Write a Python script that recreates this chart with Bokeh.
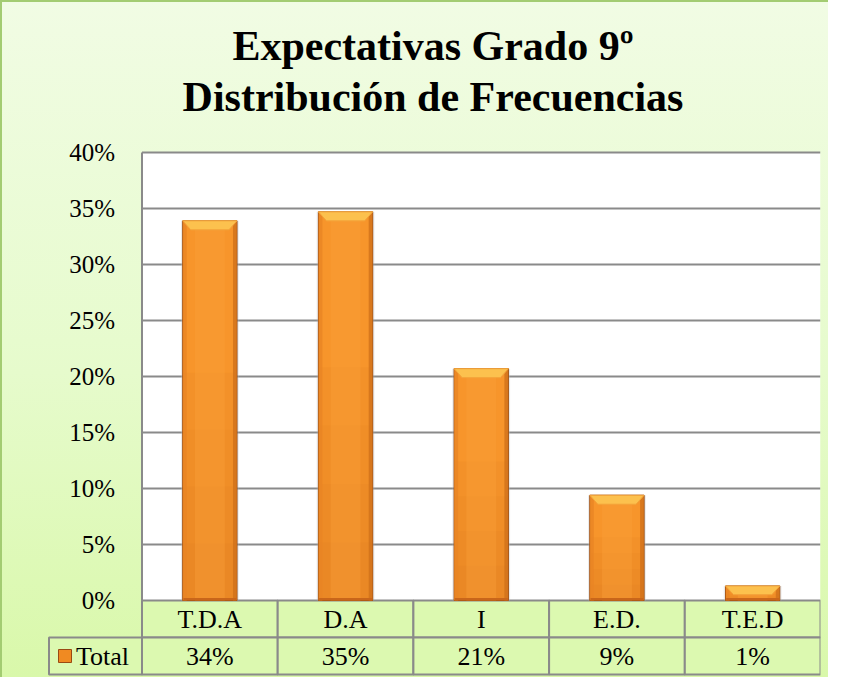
from bokeh.plotting import figure
from bokeh.models import Range1d, Title
from bokeh.embed import file_html
from bokeh.resources import INLINE
from bokeh.core.properties import value

# ---------------- data ----------------
categories = ["T.D.A", "D.A", "I", "E.D.", "T.E.D"]
totals = [33.9, 34.7, 20.7, 9.4, 1.3]          # percent
value_labels = ["34%", "35%", "21%", "9%", "1%"]
y_ticks = [0, 5, 10, 15, 20, 25, 30, 35, 40]
y_tick_labels = ["0%", "5%", "10%", "15%", "20%", "25%", "30%", "35%", "40%"]
series_name = "Total"
title_line1 = "Expectativas Grado 9º"
title_line2 = "Distribución de Frecuencias"

# ---------------- layout (pixels) ----------------
W, H = 828, 677
FRAME_L, FRAME_R, FRAME_T, FRAME_B = 45, 820, 125, 677
PLOT_L = 141.5          # canvas x of plot-area left edge
ZERO_Y = 600            # canvas y of 0%
PX_PER_COL = (FRAME_R - PLOT_L) / len(categories)
PX_PER_PCT = 11.2
ROW_PX = 37
LEGEND_COL_PX = 93

x_start = -0.5 - (PLOT_L - FRAME_L) / PX_PER_COL
x_end = len(categories) - 0.5
y_end = (ZERO_Y - FRAME_T) / PX_PER_PCT
y_start = -(FRAME_B - ZERO_Y) / PX_PER_PCT
row_h = ROW_PX / PX_PER_PCT
leg_left = -0.5 - LEGEND_COL_PX / PX_PER_COL

FONT = "Liberation Serif"
GRID = "#8a8a8a"
CELL = "#dcf9b0"

p = figure(width=W, height=H, output_backend="svg", toolbar_location=None,
           x_range=Range1d(x_start, x_end), y_range=Range1d(y_start, y_end),
           x_axis_type=None, y_axis_type=None,
           min_border_left=FRAME_L, min_border_right=W - FRAME_R,
           min_border_top=FRAME_T, min_border_bottom=H - FRAME_B,
           styles={"background": "linear-gradient(to bottom, #f1fce4 0%, #e6fbcc 55%, #d9f8aa 100%)",
                   "box-shadow": "inset 2px 2px 0 #a3cc72"})
p.background_fill_alpha = 0
p.border_fill_alpha = 0
p.outline_line_color = None
p.grid.visible = False

p.add_layout(Title(text=title_line2, align="center", text_font=FONT,
                   text_font_size="42px", text_font_style="bold",
                   text_color="black", standoff=12), "above")
p.add_layout(Title(text=title_line1, align="center", text_font=FONT,
                   text_font_size="42px", text_font_style="bold",
                   text_color="black", standoff=-6), "above")

n = len(categories)
xs = list(range(n))

# plot area
p.quad(left=[-0.5], right=[x_end], bottom=[0], top=[y_ticks[-1]],
       fill_color="white", line_color=None)

# gridlines
gy = y_ticks[1:]
p.segment(x0=[-0.5] * len(gy), x1=[x_end] * len(gy), y0=gy, y1=gy,
          line_color=GRID, line_width=2)

# table row 1 (categories)
p.quad(left=[x - 0.5 for x in xs], right=[x + 0.5 for x in xs],
       bottom=[-row_h] * n, top=[0] * n,
       fill_color=CELL, line_color=GRID, line_width=2)
# table row 2 (values + legend cell)
p.quad(left=[leg_left] + [x - 0.5 for x in xs], right=[-0.5] + [x + 0.5 for x in xs],
       bottom=[-2 * row_h] * (n + 1), top=[-row_h] * (n + 1),
       fill_color=CELL, line_color=GRID, line_width=2)

# left axis line
p.segment(x0=[-0.5], x1=[-0.5], y0=[0], y1=[y_ticks[-1]], line_color=GRID, line_width=2)

# bars
bw = 0.4
dx = 8 / PX_PER_COL           # bevel inset (horizontal)
dy = 9 / PX_PER_PCT           # bevel depth (vertical)
sx = 4 / PX_PER_COL           # side strip width


def bevel_top(x, t):
    h = min(dy, t * 0.6)
    return ([x - bw / 2, x + bw / 2, x + bw / 2 - dx, x - bw / 2 + dx],
            [t, t, t - h, t - h])


p.vbar(x=xs, top=totals, width=bw + 0.025, bottom=0,
       fill_color="#bdbdbd", fill_alpha=0.35, line_color=None)   # soft shadow
p.vbar(x=xs, top=totals, width=bw, bottom=0,
       fill_color="#f7952b", line_color="#8f4510", line_width=1)
# smooth darkening toward the base
for frac in (0.6, 0.45, 0.3, 0.15):
    p.vbar(x=xs, top=[t * frac for t in totals], width=bw - 0.005, bottom=0,
           fill_color="#d9741f", line_color=None, fill_alpha=0.1)
p.vbar(x=xs, top=totals, width=bw * 0.55, bottom=0,
       fill_color="#fba13a", line_color=None, fill_alpha=0.4)
# side strips
p.vbar(x=[x + bw / 2 - sx / 2 for x in xs], top=totals, width=sx, bottom=0,
       fill_color="#d0701a", line_color=None, fill_alpha=0.8)
p.vbar(x=[x - bw / 2 + sx / 2 for x in xs], top=totals, width=sx, bottom=0,
       fill_color="#e88424", line_color=None, fill_alpha=0.8)
# bevelled top
tops = [bevel_top(x, t) for x, t in zip(xs, totals)]
p.patches(xs=[tp[0] for tp in tops], ys=[tp[1] for tp in tops],
          fill_color="#fcc14e", line_color="#f3a33a", line_width=1)
p.vbar(x=xs, top=[min(2.5 / PX_PER_PCT, t * 0.2) for t in totals], width=bw - 0.01,
       bottom=0, fill_color="#c9661a", line_color=None)

# y tick labels
p.text(x=[-0.5] * len(y_ticks), y=y_ticks, text=y_tick_labels,
       x_offset=-27, text_align="right", text_baseline="middle",
       text_font=value(FONT), text_font_size="25px", text_color="black")

# table texts
p.text(x=xs, y=[-row_h / 2] * n, text=categories, text_align="center",
       text_baseline="middle", text_font=value(FONT), text_font_size="26px",
       text_color="black")
p.text(x=xs, y=[-1.5 * row_h] * n, text=value_labels, text_align="center",
       text_baseline="middle", text_font=value(FONT), text_font_size="26px",
       text_color="black")
p.scatter(x=[leg_left + 16 / PX_PER_COL], y=[-1.5 * row_h], marker="square", size=13,
          fill_color="#f08a22", line_color="#9a4a12", line_width=1)
p.text(x=[leg_left], y=[-1.5 * row_h], text=[series_name], x_offset=27,
       text_align="left", text_baseline="middle", text_font=value(FONT),
       text_font_size="26px", text_color="black")

open("out.html", "w").write(file_html(p, INLINE))
